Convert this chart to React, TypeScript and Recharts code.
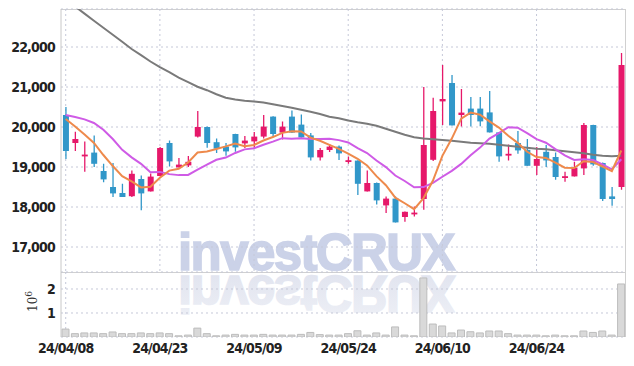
import { ComposedChart, Bar, Line, XAxis, YAxis, CartesianGrid } from "recharts";

const dates = [
  "24/04/08", "24/04/09", "24/04/11", "24/04/12", "24/04/15", "24/04/16", "24/04/17", "24/04/18", "24/04/19", "24/04/22",
  "24/04/23", "24/04/24", "24/04/25", "24/04/26", "24/04/29", "24/04/30", "24/05/02", "24/05/03", "24/05/07", "24/05/08",
  "24/05/09", "24/05/10", "24/05/13", "24/05/14", "24/05/16", "24/05/17", "24/05/20", "24/05/21", "24/05/22", "24/05/23",
  "24/05/24", "24/05/27", "24/05/28", "24/05/29", "24/05/30", "24/05/31", "24/06/03", "24/06/04", "24/06/05", "24/06/07",
  "24/06/10", "24/06/11", "24/06/12", "24/06/13", "24/06/14", "24/06/17", "24/06/18", "24/06/19", "24/06/20", "24/06/21",
  "24/06/24", "24/06/25", "24/06/26", "24/06/27", "24/06/28", "24/07/01", "24/07/02", "24/07/03", "24/07/04", "24/07/05",
];

const opens = [
  20300, 19600, 19290, 19360, 18900, 18500, 18350, 18270, 18700, 18390,
  18775, 19600, 18990, 19040, 19760, 20000, 19620, 19510, 19825, 19590,
  19640, 19760, 20260, 19860, 20260, 20060, 19790, 19240, 19425, 19510,
  19150, 19160, 18390, 18600, 18040, 18210, 17750, 17840, 18200, 19180,
  20640, 21100, 20300, 20460, 20460, 20365, 19865, 19300, 19600, 19430,
  19030, 19380, 19250, 18750, 18765, 18965, 20050, 19100, 18265, 18500,
];
const highs = [
  20500, 19880, 19640, 19790, 19080, 19100, 18580, 18910, 18790, 18840,
  19500, 19660, 19225, 19275, 20400, 20010, 19710, 19600, 19830, 19775,
  19875, 20300, 20270, 20140, 20410, 20310, 19850, 19475, 19575, 19540,
  19265, 19170, 18915, 18610, 18265, 18265, 17890, 18015, 21000, 20730,
  21550, 21300, 20950, 20750, 20750, 20900, 19870, 19565, 19900, 19700,
  19500, 19550, 19365, 18880, 19130, 20100, 20055, 19110, 18500, 21850,
];
const lows = [
  19200, 19400, 18880, 19000, 18620, 18250, 18250, 18250, 17920, 18390,
  18770, 19010, 18990, 19000, 19740, 19480, 19350, 19280, 19380, 19475,
  19460, 19710, 19760, 19690, 19850, 19730, 19160, 19160, 19375, 19175,
  19080, 18300, 18390, 18065, 17850, 17610, 17630, 17765, 17930, 19150,
  20050, 20040, 20015, 20015, 20020, 19860, 19130, 19165, 19330, 19030,
  18800, 19000, 18680, 18630, 18760, 18800, 19030, 18150, 18030, 18430,
];
const closes = [
  19400, 19700, 19310, 19080, 18690, 18340, 18250, 18830, 18340, 18760,
  19475, 19140, 19060, 19130, 20000, 19600, 19460, 19390, 19490, 19660,
  19760, 20010, 19825, 20010, 19860, 19740, 19240, 19425, 19510, 19340,
  19170, 18580, 18600, 18165, 18210, 17615, 17880, 17860, 19550, 20400,
  20700, 20040, 20360, 20300, 20140, 19865, 19265, 19330, 19415, 19030,
  19200, 19165, 18750, 18770, 18980, 20050, 19065, 18200, 18200, 21550,
];

const ma5 = [
  20200, 20015, 19810, 19600, 19300, 19024, 18770, 18638, 18490, 18504,
  18731, 18909, 18955, 19113, 19361, 19386, 19450, 19516, 19588, 19520,
  19552, 19662, 19749, 19853, 19893, 19889, 19735, 19655, 19555, 19451,
  19337, 19205, 19040, 18771, 18545, 18234, 18094, 17946, 18223, 18661,
  19278, 19710, 20210, 20360, 20308, 20141, 19986, 19780, 19603, 19381,
  19248, 19228, 19112, 18983, 18973, 19143, 19123, 19013, 18899, 19413,
];
const ma10 = [
  20300, 20250, 20190, 20100, 19930, 19700, 19430, 19240, 19080, 18870,
  18878, 18822, 18797, 18802, 18933, 19059, 19180, 19236, 19351, 19441,
  19469, 19556, 19633, 19721, 19707, 19721, 19699, 19702, 19704, 19672,
  19613, 19470, 19348, 19163, 18998, 18786, 18650, 18493, 18497, 18603,
  18756, 18902, 19078, 19292, 19485, 19710, 19848, 19995, 19982, 19845,
  19695, 19607, 19446, 19293, 19177, 19196, 19176, 19063, 18941, 19193,
];
const maLong = [
  23180, 23012, 22835, 22657, 22482, 22307, 22132, 21950, 21795, 21637,
  21495, 21370, 21232, 21120, 21007, 20920, 20820, 20732, 20687, 20657,
  20640, 20612, 20570, 20525, 20482, 20432, 20382, 20325, 20257, 20220,
  20165, 20120, 20082, 20032, 19957, 19882, 19807, 19745, 19715, 19695,
  19675, 19657, 19632, 19607, 19595, 19582, 19557, 19532, 19507, 19482,
  19457, 19445, 19420, 19395, 19370, 19345, 19307, 19282, 19270, 19282,
];

// volume in millions of shares
const volumes = [
  0.33, 0.14, 0.17, 0.17, 0.14, 0.21, 0.14, 0.14, 0.17, 0.14,
  0.17, 0.14, 0.05, 0.08, 0.37, 0.14, 0.05, 0.08, 0.11, 0.08,
  0.08, 0.11, 0.08, 0.08, 0.08, 0.11, 0.19, 0.1, 0.08, 0.08,
  0.14, 0.26, 0.08, 0.17, 0.08, 0.42, 0.08, 0.05, 2.46, 0.54,
  0.46, 0.17, 0.29, 0.22, 0.17, 0.25, 0.25, 0.14, 0.08, 0.08,
  0.08, 0.05, 0.08, 0.05, 0.05, 0.25, 0.19, 0.25, 0.08, 2.21,
];

const priceTicks = [17000, 18000, 19000, 20000, 21000, 22000];
const volumeTicks = [1, 2];
const dateTicks = ["24/04/08", "24/04/23", "24/05/09", "24/05/24", "24/06/10", "24/06/24"];

const UP = "#e6186a";
const DOWN = "#3197c9";
const GRID = "#c5c8d8";
const TICK_FONT = "'Liberation Sans Narrow', 'DejaVu Sans Condensed', sans-serif";
const MARK_FONT = "'Liberation Sans', Arial, sans-serif";

const rows = dates.map((date, i) => ({
  date,
  open: opens[i],
  high: highs[i],
  low: lows[i],
  close: closes[i],
  range: [lows[i], highs[i]],
  ma5: ma5[i],
  ma10: ma10[i],
  maLong: maLong[i],
  volume: volumes[i],
}));

function Candle(props: any) {
  const { x, y, width, height, payload } = props;
  if (!payload) return null;
  const { open, close, high, low } = payload;
  const color = close >= open ? UP : DOWN;
  const top = Math.min(y, y + height);
  const h = Math.abs(height);
  const k = h / (high - low || 1);
  const yAt = (v: number) => top + (high - v) * k;
  const cx = x + width / 2;
  const bTop = yAt(Math.max(open, close));
  const bBot = yAt(Math.min(open, close));
  const bw = 6;
  return (
    <g>
      <line x1={cx} x2={cx} y1={top} y2={top + h} stroke={color} strokeWidth={1.3} />
      <rect x={cx - bw / 2} y={bTop} width={bw} height={Math.max(bBot - bTop, 1.8)} fill={color} />
    </g>
  );
}

const tickStyle = { fontFamily: TICK_FONT, fontWeight: 700, fontSize: 14, letterSpacing: -0.8, fill: "#222" };

export default function App() {
  return (
    <div style={{ position: "absolute", left: 0, top: 0, width: 634, height: 366, background: "#fff" }}>
      <svg width={634} height={366} style={{ position: "absolute", left: 0, top: 0 }}>
        <defs>
          <linearGradient id="refl" x1="0" y1="0" x2="0" y2="1">
            <stop offset="0%" stopColor="#eef0f6" />
            <stop offset="100%" stopColor="#dfe2ee" />
          </linearGradient>
          <clipPath id="volArea">
            <rect x={61} y={273} width={565} height={64} />
          </clipPath>
        </defs>
        <text x={316} y={270} textAnchor="middle" fontFamily={MARK_FONT} fontWeight={700} fontSize={51}
          letterSpacing={-1.6} fill="#cbd2e8" stroke="#cbd2e8" strokeWidth={1.6}>investCRUX</text>
        <g clipPath="url(#volArea)">
          <g transform="translate(0,546) scale(1,-1)">
            <text x={316} y={270} textAnchor="middle" fontFamily={MARK_FONT} fontWeight={700} fontSize={51}
              letterSpacing={-1.6} fill="url(#refl)" stroke="url(#refl)" strokeWidth={1.6}>investCRUX</text>
          </g>
        </g>
        <line x1={61} x2={626} y1={9.5} y2={9.5} stroke="#d0d0d0" />
        <line x1={625.5} x2={625.5} y1={9} y2={337} stroke="#d0d0d0" />
        <line x1={61} x2={626} y1={272.5} y2={272.5} stroke="#d0d0d0" />
        <text transform="translate(37,312) rotate(-90)" fontFamily="'DejaVu Serif', serif" fontSize={12} fill="#333">
          10<tspan dy={-5} fontSize={9}>6</tspan>
        </text>
      </svg>

      <div style={{ position: "absolute", left: 0, top: 0 }}>
        <ComposedChart width={634} height={272} data={rows} margin={{ top: 9, right: 8, bottom: 0, left: 0 }}>
          <CartesianGrid stroke={GRID} strokeDasharray="2 3" verticalValues={dateTicks} />
          <XAxis dataKey="date" hide />
          <YAxis
            domain={[16375, 22950]}
            allowDataOverflow
            ticks={priceTicks}
            width={61}
            tickLine={false}
            tickSize={0}
            tickMargin={6}
            axisLine={{ stroke: "#c8c8c8" }}
            tick={tickStyle}
            tickFormatter={(v: number) => v.toLocaleString("en-US")}
          />
          <Line dataKey="maLong" stroke="#7a7a7a" strokeWidth={2} dot={false} isAnimationActive={false} />
          <Bar dataKey="range" shape={Candle} isAnimationActive={false} />
          <Line dataKey="ma10" stroke="#cf5be6" strokeWidth={2} dot={false} isAnimationActive={false} />
          <Line dataKey="ma5" stroke="#ee8a4c" strokeWidth={2} dot={false} isAnimationActive={false} />
        </ComposedChart>
      </div>

      <div style={{ position: "absolute", left: 0, top: 272 }}>
        <ComposedChart width={634} height={94} data={rows} margin={{ top: 0, right: 8, bottom: 0, left: 0 }} barCategoryGap={1}>
          <CartesianGrid stroke={GRID} strokeDasharray="2 3" verticalValues={dateTicks} />
          <XAxis
            dataKey="date"
            interval={9}
            height={29}
            tickLine={false}
            tickSize={0}
            tickMargin={6}
            axisLine={false}
            tick={tickStyle}
          />
          <YAxis
            domain={[0, 2.708]}
            allowDataOverflow
            ticks={volumeTicks}
            width={61}
            tickLine={false}
            tickSize={0}
            tickMargin={6}
            axisLine={{ stroke: "#c8c8c8" }}
            tick={tickStyle}
          />
          <Bar dataKey="volume" fill="#d9d9d9" stroke="#bdbdbd" strokeWidth={1} isAnimationActive={false} />
        </ComposedChart>
      </div>
    </div>
  );
}
